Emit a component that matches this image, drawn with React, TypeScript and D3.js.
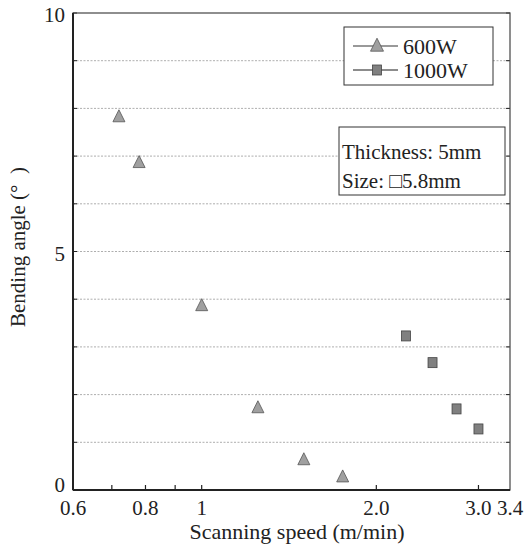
import React from "react";
import * as d3 from "d3";

const speed600 = [0.72, 0.78, 1.0, 1.25, 1.5, 1.75];
const angle600 = [7.82, 6.86, 3.86, 1.72, 0.63, 0.27];
const speed1000 = [2.25, 2.5, 2.75, 3.0];
const angle1000 = [3.23, 2.67, 1.7, 1.28];
const xTickLabels = [
  { v: 0.6, t: "0.6" },
  { v: 0.8, t: "0.8" },
  { v: 1, t: "1" },
  { v: 2, t: "2.0" },
  { v: 3, t: "3.0" },
  { v: 3.4, t: "3.4" },
];
const xTickMarks = [0.7, 0.8, 0.9, 1, 2, 3];
const yTickLabels = [0, 5, 10];
const yGrid = [1, 2, 3, 4, 5, 6, 7, 8, 9];
const legendNames = ["600W", "1000W"];

const W = 527, H = 550;
const L = 73, R = 510, T = 13, B = 490;
const FONT = "'Liberation Serif', 'Times New Roman', serif";

function Tri({ cx, cy, s = 12 }: { cx: number; cy: number; s?: number }) {
  const h = s;
  const p = `M${cx},${cy - h * 0.6} L${cx + s / 2},${cy + h * 0.4} L${cx - s / 2},${cy + h * 0.4} Z`;
  return <path d={p} fill="#a0a0a0" stroke="#555" strokeWidth={0.8} />;
}
function Sq({ cx, cy }: { cx: number; cy: number }) {
  return <rect x={cx - 4.5} y={cy - 5} width={9} height={10} fill="#808080" stroke="#444" strokeWidth={0.8} />;
}

export default function App() {
  const x = d3.scaleLog().domain([0.6, 3.4]).range([L, R]);
  const y = d3.scaleLinear().domain([0, 10]).range([B, T]);
  return (
    <svg width={W} height={H} style={{ position: "absolute", left: 0, top: 0, background: "#fff" }} fontFamily={FONT}>
      {yGrid.map((g) => (
        <line key={g} x1={L} x2={R} y1={y(g)} y2={y(g)} stroke="#999" strokeWidth={0.8} strokeDasharray="2,1.5" />
      ))}
      {d3.range(0, 11).map((g) => (
        <g key={"yt" + g}>
          <line x1={L} x2={L + 4} y1={y(g)} y2={y(g)} stroke="#222" strokeWidth={1} />
          <line x1={R} x2={R - 4} y1={y(g)} y2={y(g)} stroke="#222" strokeWidth={1} />
        </g>
      ))}
      {xTickMarks.map((v) => (
        <line key={"xt" + v} x1={x(v)} x2={x(v)} y1={B} y2={B - 5} stroke="#222" strokeWidth={1.2} />
      ))}
      <rect x={L} y={T} width={R - L} height={B - T} fill="none" stroke="#444" strokeWidth={1.2} />
      <line x1={L} x2={L} y1={T} y2={B} stroke="#222" strokeWidth={2} />
      <line x1={L} x2={R} y1={B} y2={B} stroke="#222" strokeWidth={2} />
      {yTickLabels.map((v) => (
        <text key={"yl" + v} x={L - 8} y={y(v) + (v === 0 ? -5 : 2)} dy="0.35em" textAnchor="end" fontSize={21} fill="#222">
          {v}
        </text>
      ))}
      {xTickLabels.map((d) => (
        <text key={"xl" + d.t} x={x(d.v)} y={515} textAnchor="middle" fontSize={21} fill="#222">
          {d.t}
        </text>
      ))}
      <text x={297} y={539} textAnchor="middle" fontSize={22} fill="#222">
        Scanning speed (m/min)
      </text>
      <text transform={`translate(25,247) rotate(-90)`} textAnchor="middle" fontSize={21} fill="#222" style={{ whiteSpace: "pre" }}>
        {"Bending angle (°  )"}
      </text>
      {speed600.map((s, i) => (
        <Tri key={"a" + i} cx={x(s)} cy={y(angle600[i])} />
      ))}
      {speed1000.map((s, i) => (
        <Sq key={"b" + i} cx={x(s)} cy={y(angle1000[i])} />
      ))}
      <rect x={344} y={27} width={149} height={58} fill="#fff" stroke="#333" strokeWidth={1} />
      <line x1={353} x2={398} y1={46} y2={46} stroke="#777" strokeWidth={1.5} />
      <Tri cx={377} cy={46} s={13} />
      <text x={403} y={46} dy="0.35em" fontSize={22} fill="#222">{legendNames[0]}</text>
      <line x1={353} x2={398} y1={70} y2={70} stroke="#666" strokeWidth={1.5} />
      <Sq cx={377} cy={70} />
      <text x={403} y={70} dy="0.35em" fontSize={22} fill="#222">{legendNames[1]}</text>
      <rect x={339} y={127} width={166} height={68} fill="#fff" stroke="#333" strokeWidth={1} />
      <text x={342} y={152} dy="0.35em" fontSize={21} fill="#222">Thickness: 5mm</text>
      <text x={342} y={181} dy="0.35em" fontSize={21} fill="#222">Size: □5.8mm</text>
    </svg>
  );
}
